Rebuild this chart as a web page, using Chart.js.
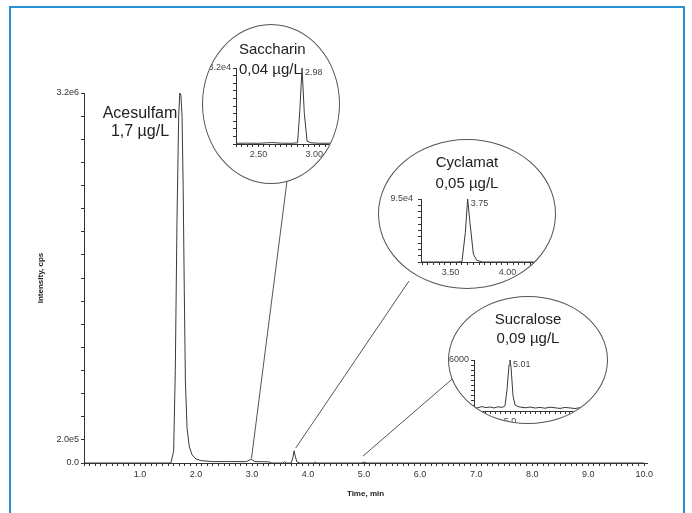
<!DOCTYPE html>
<html lang="de">
<head>
<meta charset="UTF-8">
<title>Süßstoffe im Wasser</title>
<script src="https://cdn.jsdelivr.net/npm/chart.js"></script>
<style>
  body { margin: 0; background: #fff; font-family: "Liberation Sans", Arial, sans-serif; }
  #seite { position: relative; width: 692px; height: 513px; overflow: hidden; }
  #rahmen { position: absolute; left: 9px; top: 6px; width: 672px; height: 560px; border: 2px solid #2a90d8; }
  #haupt { position: absolute; left: 0; top: 0; }
  .lupe { position: absolute; border: 1px solid #555; border-radius: 50%; overflow: hidden; background: #fff; }
  .lupe canvas { position: absolute; left: 0; top: 0; }
  .titel { position: absolute; left: 0; right: 0; text-align: center; font-size: 15px; color: #222; }
  #acesulfam { position: absolute; left: 90px; top: 104px; width: 100px; text-align: center;
               font-size: 16px; line-height: 18px; color: #222; }
</style>
</head>
<body>

<div id="seite">
    <div id="rahmen"></div>
    <canvas id="haupt" width="692" height="513"></canvas>
    <div id="acesulfam">Acesulfam<br>1,7 µg/L</div>

    <div class="lupe" style="left:202px; top:24px; width:136px; height:158px;">
        <canvas id="lupeSacc" width="136" height="158"></canvas>
        <div class="titel" style="top:14px; left:36px; right:auto; text-align:left; line-height:20px;">Saccharin<br>0,04 µg/L</div>
    </div>

    <div class="lupe" style="left:378px; top:139px; width:176px; height:148px;">
        <canvas id="lupeCyc" width="176" height="148"></canvas>
        <div class="titel" style="top:11px; line-height:21px;">Cyclamat<br>0,05 µg/L</div>
    </div>

    <div class="lupe" style="left:448px; top:296px; width:158px; height:126px;">
        <canvas id="lupeSuc" width="158" height="126"></canvas>
        <div class="titel" style="top:12px; line-height:19px;">Sucralose<br>0,09 µg/L</div>
    </div>
</div>

<script>

    // Hauptchromatogramm (Zeit in min, Intensität in cps)
    const zeit = [0, 1.55, 1.6, 1.63, 1.66, 1.69, 1.71, 1.73, 1.75, 1.77, 1.79, 1.81, 1.84, 1.88, 1.93,
        2.0, 2.1, 2.3, 2.6, 2.9, 2.95, 2.98, 3.01, 3.05, 3.3, 3.35, 3.55, 3.58, 3.61, 3.7, 3.73, 3.75,
        3.77, 3.8, 3.85, 4.1, 4.12, 4.15, 4.95, 5.0, 5.05, 10.0];
    const intensitaet = [0, 0, 1e5, 8e5, 2.1e6, 3.0e6, 3.2e6, 3.18e6, 3.0e6, 2.4e6, 1.5e6, 7e5, 3e5, 1.4e5, 7e4,
        3.5e4, 2e4, 1.2e4, 1.2e4, 1.2e4, 2.5e4, 3.5e4, 2.5e4, 1.2e4, 1e4, 0, 0, 1.2e4, 0, 0, 5e4, 1.05e5,
        6e4, 1e4, 0, 0, 8e3, 0, 0, 8e3, 0, 0];

    const yTickWerte = [0, 2e5, 3.2e6];
    const yTickTexte = ['0.0', '2.0e5', '3.2e6'];
    const xTickWerte = [1, 2, 3, 4, 5, 6, 7, 8, 9, 10];
    const xTickTexte = ['1.0', '2.0', '3.0', '4.0', '5.0', '6.0', '7.0', '8.0', '9.0', '10.0'];

    // Wo die Hinweislinien im Chromatogramm enden
    const lupeZeit = [2.99, 3.78, 4.98];
    const lupeIntensitaet = [4e4, 1.3e5, 6e4];

    // Saccharin
    const saccZeit = [2.3, 2.4, 2.5, 2.58, 2.62, 2.7, 2.8, 2.85, 2.87, 2.89, 2.91, 2.935, 2.97, 3.05, 3.15, 3.22];
    const saccInt = [300, 350, 300, 500, 600, 350, 300, 500, 1.4e4, 3.2e4, 1.3e4, 1200, 500, 300, 350, 300];
    const saccXWerte = [2.5, 3.0];
    const saccXTexte = ['2.50', '3.00'];

    // Cyclamat
    const cycZeit = [3.24, 3.55, 3.6, 3.63, 3.65, 3.67, 3.7, 3.73, 3.78, 4.41];
    const cycInt = [0, 0, 500, 4.5e4, 9.5e4, 6e4, 1.2e4, 2500, 0, 0];
    const cycXWerte = [3.5, 4.0];
    const cycXTexte = ['3.50', '4.00'];

    // Sucralose
    const sucZeit = [4.64, 4.68, 4.72, 4.76, 4.8, 4.84, 4.88, 4.92, 4.95, 4.97, 4.99, 5.0, 5.01, 5.03, 5.05,
        5.08, 5.12, 5.16, 5.2, 5.25, 5.3, 5.35, 5.4, 5.45, 5.5, 5.55, 5.6, 5.65, 5.7, 5.75, 5.8, 5.85, 5.9, 5.97];
    const sucInt = [450, 380, 520, 400, 470, 360, 500, 420, 600, 2500, 5400, 6000, 5200, 1800, 700,
        520, 430, 380, 470, 350, 420, 330, 450, 380, 300, 420, 360, 290, 400, 330, 370, 280, 340, 300];
    const sucXWerte = [5.0];
    const sucXTexte = ['5.0'];

    const peakTexte = ['2.98', '3.75', '5.01'];

    const linie = '#3a3a3a';
    const schrift = '"Liberation Sans", Arial, sans-serif';

    function punkte(xs, ys) {
        return xs.map(function (x, i) { return { x: x, y: ys[i] }; });
    }

    function textFuer(werte, texte) {
        return function (wert) {
            for (let i = 0; i < werte.length; i++) {
                if (Math.abs(wert - werte[i]) < 1e-6) return texte[i];
            }
            return '';
        };
    }

    // Hinweislinien von den Lupen zum Peak
    const hinweisPlugin = {
        id: 'hinweis',
        afterDatasetsDraw(chart) {
            const ctx = chart.ctx;
            const start = [[287, 181], [409, 281], [458, 374]];
            ctx.save();
            ctx.strokeStyle = '#555';
            ctx.lineWidth = 1;
            for (let i = 0; i < start.length; i++) {
                ctx.beginPath();
                ctx.moveTo(start[i][0], start[i][1]);
                ctx.lineTo(chart.scales.x.getPixelForValue(lupeZeit[i]),
                    chart.scales.y.getPixelForValue(lupeIntensitaet[i]));
                ctx.stroke();
            }
            ctx.restore();
        }
    };

    Chart.defaults.font.family = schrift;
    Chart.defaults.color = '#333';

    new Chart(document.getElementById('haupt'), {
        type: 'line',
        data: {
            datasets: [{
                data: punkte(zeit, intensitaet),
                borderColor: linie,
                borderWidth: 1,
                pointRadius: 0,
                tension: 0
            }]
        },
        options: {
            responsive: false,
            animation: false,
            plugins: { legend: { display: false }, tooltip: { enabled: false } },
            layout: { padding: { left: 36, top: 93, right: 45, bottom: 14 } },
            scales: {
                x: {
                    type: 'linear', min: 0, max: 10.05,
                    afterFit: function (s) { s.height = 36; },
                    border: { color: '#333' },
                    grid: { drawOnChartArea: false, tickLength: 3, color: '#333' },
                    ticks: {
                        stepSize: 0.1, autoSkip: false, maxRotation: 0, padding: 3, includeBounds: false,
                        font: { size: 9 }, callback: textFuer(xTickWerte, xTickTexte)
                    },
                    title: { display: true, text: 'Time, min', font: { size: 8, weight: 'bold' }, color: '#222', padding: 0 }
                },
                y: {
                    min: 0, max: 3.2e6,
                    afterFit: function (s) { s.width = 48; },
                    border: { color: '#333' },
                    grid: { drawOnChartArea: false, tickLength: 3, color: '#333' },
                    ticks: {
                        stepSize: 2e5, autoSkip: false, padding: 2,
                        font: { size: 9 }, callback: textFuer(yTickWerte, yTickTexte)
                    },
                    title: { display: true, text: 'Intensity, cps', font: { size: 8, weight: 'bold' }, color: '#222', padding: 0 }
                }
            }
        },
        plugins: [hinweisPlugin]
    });

    function lupe(id, xs, ys, xMin, xMax, yMax, xWerte, xTexte, links, oben, unten, peakText, yAbstand) {
        const peakPlugin = {
            id: 'peak',
            afterDatasetsDraw(chart) {
                let iMax = 0;
                for (let i = 1; i < ys.length; i++) if (ys[i] > ys[iMax]) iMax = i;
                const ctx = chart.ctx;
                ctx.save();
                ctx.font = '9px ' + schrift;
                ctx.fillStyle = '#444';
                ctx.textBaseline = 'top';
                ctx.fillText(peakText, chart.scales.x.getPixelForValue(xs[iMax]) + 3, chart.chartArea.top);
                ctx.restore();
            }
        };
        const canvas = document.getElementById(id);
        return new Chart(canvas, {
            type: 'line',
            data: {
                datasets: [{
                    data: punkte(xs, ys),
                    borderColor: linie,
                    borderWidth: 1,
                    pointRadius: 0,
                    tension: 0,
                    clip: 2
                }]
            },
            options: {
                responsive: false,
                animation: false,
                plugins: { legend: { display: false }, tooltip: { enabled: false } },
                layout: { padding: { left: 0, top: oben, right: 0, bottom: 0 } },
                scales: {
                    x: {
                        type: 'linear', min: xMin, max: xMax,
                        afterFit: function (s) { s.height = canvas.height - unten; },
                        border: { color: '#333' },
                        grid: { drawOnChartArea: false, tickLength: 3, color: '#333' },
                        ticks: {
                            stepSize: 0.05, autoSkip: false, maxRotation: 0, padding: 2, includeBounds: false,
                            font: { size: 9 }, color: '#444', callback: textFuer(xWerte, xTexte)
                        }
                    },
                    y: {
                        min: 0, max: yMax,
                        afterFit: function (s) { s.width = links; },
                        border: { color: '#333' },
                        grid: { drawOnChartArea: false, tickLength: 3, color: '#333' },
                        ticks: {
                            stepSize: yMax / 10, autoSkip: false, padding: yAbstand,
                            font: { size: 9 }, color: '#444',
                            callback: function (v) { return Math.abs(v - yMax) < 1e-6 ? (yMax >= 1e4 ? yMax.toExponential(1) : String(yMax)).replace('e+', 'e') : ''; }
                        }
                    }
                }
            },
            plugins: [peakPlugin]
        });
    }

    lupe('lupeSacc', saccZeit, saccInt, 2.3, 3.22, 3.2e4, saccXWerte, saccXTexte, 33, 43, 119, peakTexte[0], 2);
    lupe('lupeCyc', cycZeit, cycInt, 3.24, 4.41, 9.5e4, cycXWerte, cycXTexte, 42, 59, 122, peakTexte[1], 5);
    lupe('lupeSuc', sucZeit, sucInt, 4.64, 5.97, 6000, sucXWerte, sucXTexte, 25, 63, 114, peakTexte[2], 2);

</script>
</body>
</html>
